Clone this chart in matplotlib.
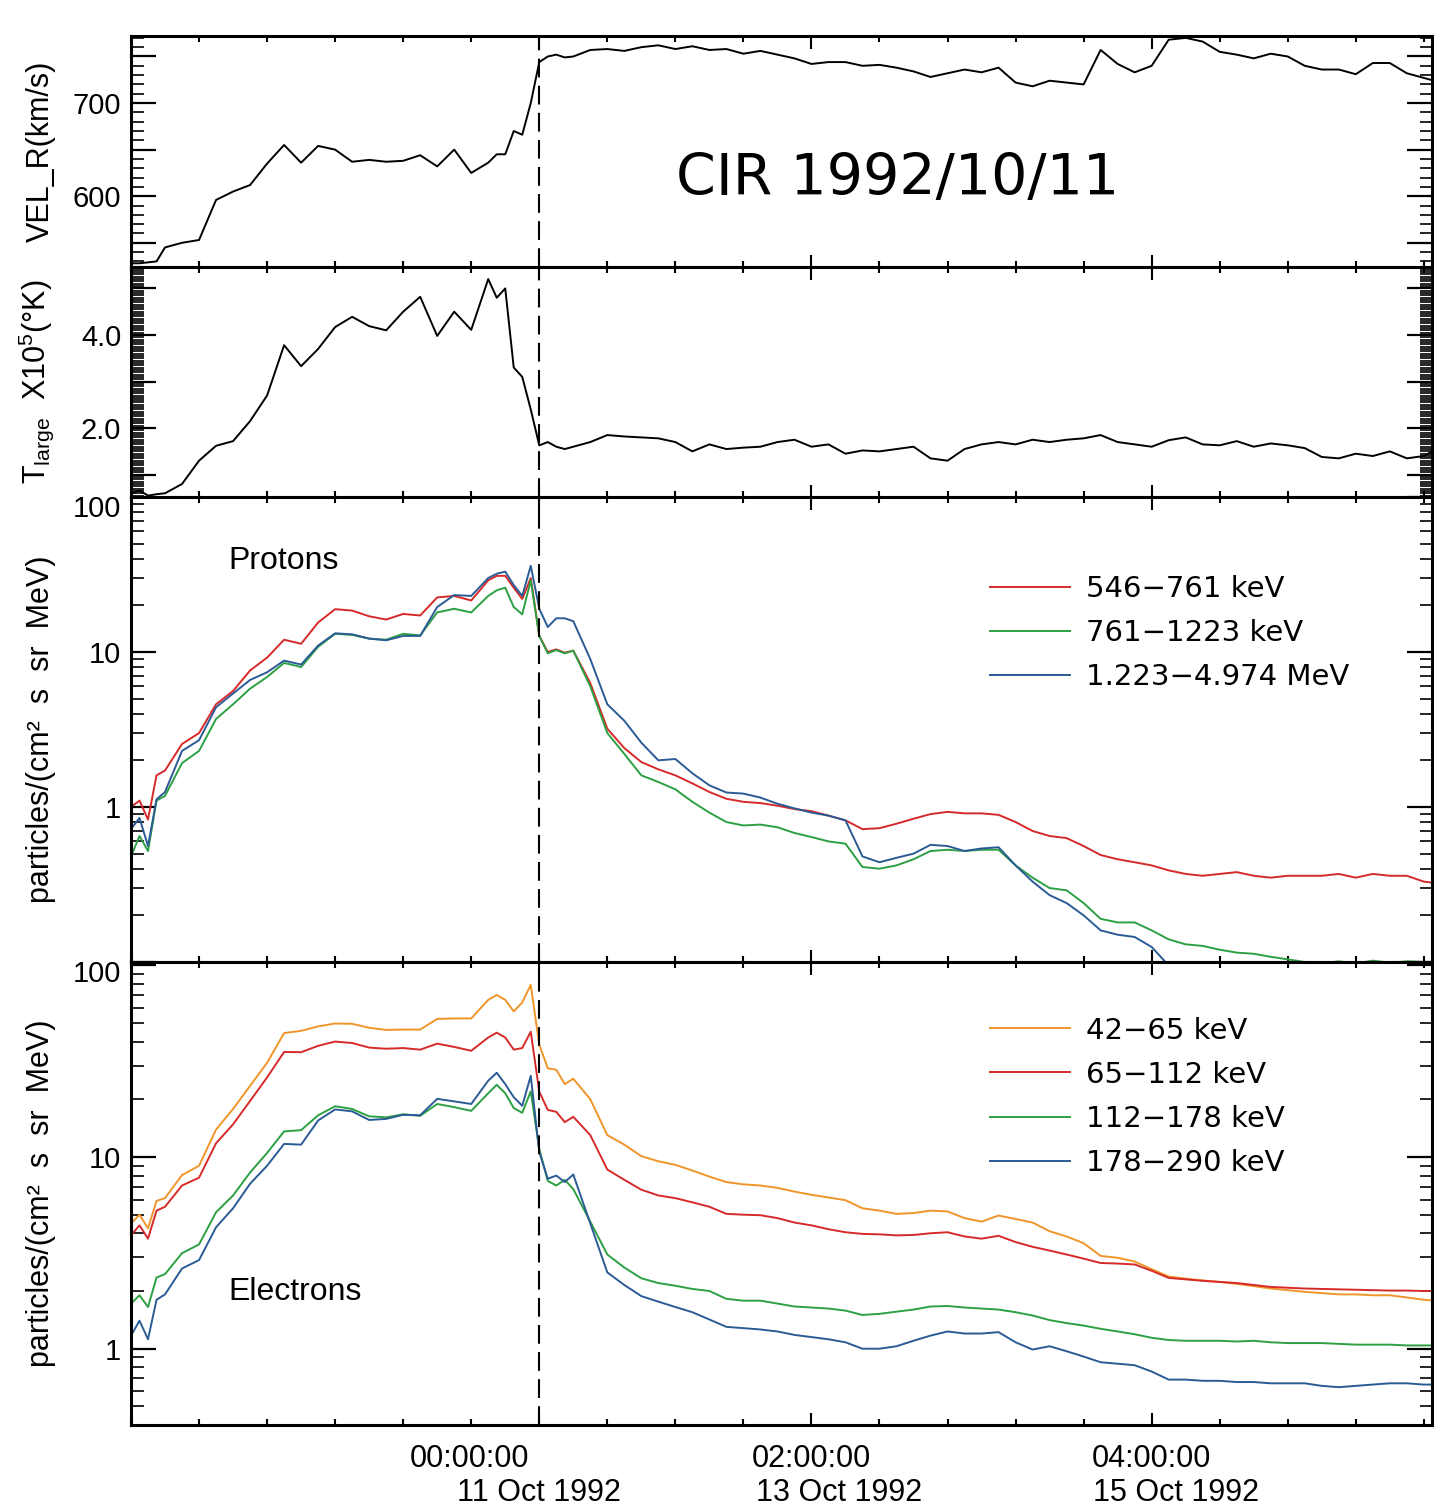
import numpy as np
import matplotlib
matplotlib.use('Agg')
import matplotlib.pyplot as plt
from matplotlib.ticker import MultipleLocator, FixedLocator, FuncFormatter, LogLocator

plt.rcParams['font.family'] = ['Liberation Sans', 'DejaVu Sans']
plt.rcParams['mathtext.fontset'] = 'custom'
plt.rcParams['mathtext.rm'] = 'Liberation Sans'
plt.rcParams['mathtext.it'] = 'Liberation Sans:italic'

# time in hours relative to 11 Oct 1992 00:00 (shock / dashed line)
hours = np.r_[-72:-66:1.5, -66:-9:3, -9:6:1.5, 6:160:3]

vel = [528, 528, 529, 530, 545, 550, 553, 596, 605, 612,
       635, 655, 636, 654, 650, 637, 639, 637, 638, 644,
       632, 650, 625, 636, 645, 645, 670, 666, 700, 744,
       750, 752, 749, 750, 757, 758, 756, 760, 762, 758,
       761, 757, 758, 753, 756, 752, 748, 742, 744, 744,
       740, 741, 738, 734, 728, 732, 736, 733, 738, 722,
       718, 724, 722, 720, 757, 742, 733, 740, 768, 770,
       766, 755, 752, 748, 753, 750, 740, 736, 736, 731,
       743, 743, 732, 727, 722]

temp = [0.60, 0.66, 0.55, 0.58, 0.60, 0.80, 1.30, 1.62, 1.72, 2.15,
        2.70, 3.78, 3.33, 3.70, 4.17, 4.39, 4.19, 4.10, 4.50, 4.82,
        3.98, 4.50, 4.11, 5.20, 4.80, 5.00, 3.30, 3.10, 2.40, 1.63,
        1.70, 1.60, 1.55, 1.60, 1.70, 1.85, 1.82, 1.80, 1.78, 1.70,
        1.50, 1.65, 1.55, 1.58, 1.60, 1.70, 1.75, 1.60, 1.65, 1.45,
        1.52, 1.50, 1.55, 1.60, 1.35, 1.30, 1.55, 1.65, 1.70, 1.65,
        1.75, 1.70, 1.75, 1.78, 1.85, 1.70, 1.65, 1.60, 1.74, 1.80,
        1.65, 1.63, 1.72, 1.60, 1.67, 1.63, 1.57, 1.38, 1.35, 1.45,
        1.40, 1.50, 1.35, 1.40, 1.60]

# protons
p_546 = [1.0, 1.1, 0.83, 1.6, 1.72, 2.55, 3.0, 4.6, 5.6, 7.6,
         9.2, 12.0, 11.3, 15.5, 18.9, 18.5, 17.0, 16.2, 17.6, 17.2,
         22.5, 23.0, 21.5, 29, 31, 31, 26, 22, 30, 12.7,
         10.0, 10.4, 9.9, 10.2, 6.3, 3.2, 2.4, 1.95, 1.75, 1.6,
         1.42, 1.25, 1.13, 1.08, 1.06, 1.02, 0.97, 0.94, 0.88, 0.82,
         0.72, 0.73, 0.78, 0.84, 0.9, 0.93, 0.91, 0.91, 0.89, 0.8,
         0.7, 0.65, 0.63, 0.56, 0.49, 0.46, 0.44, 0.42, 0.39, 0.37,
         0.36, 0.37, 0.38, 0.36, 0.35, 0.36, 0.36, 0.36, 0.37, 0.35,
         0.37, 0.36, 0.36, 0.33, 0.32]
p_761 = [0.48, 0.65, 0.52, 1.1, 1.18, 1.92, 2.3, 3.7, 4.6, 5.8,
         6.9, 8.5, 8.0, 10.8, 13.1, 12.9, 12.2, 12.0, 13.1, 12.8,
         18.0, 19.0, 18.0, 23, 25, 26, 19.5, 17.5, 29, 12.7,
         9.8, 10.3, 9.8, 10.2, 6.0, 3.0, 2.2, 1.6, 1.45, 1.3,
         1.08, 0.92, 0.8, 0.76, 0.77, 0.74, 0.68, 0.64, 0.6, 0.58,
         0.41, 0.4, 0.42, 0.46, 0.52, 0.53, 0.52, 0.53, 0.53, 0.42,
         0.35, 0.3, 0.29, 0.24, 0.19, 0.18, 0.18, 0.16, 0.14, 0.13,
         0.127, 0.12, 0.115, 0.113, 0.108, 0.104, 0.1, 0.098, 0.101, 0.098,
         0.102, 0.099, 0.101, 0.1, 0.1]
p_1223 = [0.72, 0.85, 0.56, 1.12, 1.25, 2.3, 2.7, 4.4, 5.4, 6.6,
          7.4, 8.8, 8.3, 11.0, 13.2, 13.0, 12.2, 11.9, 12.7, 12.7,
          19.5, 23.3, 23.0, 30, 32, 33, 27, 23, 36, 19.0,
          14.5, 16.5, 16.5, 15.8, 9.0, 4.6, 3.6, 2.6, 2.0, 2.04,
          1.65, 1.38, 1.24, 1.22, 1.15, 1.05, 0.98, 0.92, 0.88, 0.82,
          0.48, 0.44, 0.47, 0.5, 0.57, 0.56, 0.52, 0.54, 0.55, 0.42,
          0.33, 0.27, 0.24, 0.2, 0.16, 0.15, 0.145, 0.125, 0.095, 0.08,
          0.075, 0.08, 0.095, 0.08, 0.075, 0.08, 0.07, 0.075, 0.07, 0.08,
          0.075, 0.07, 0.075, 0.07, 0.07]

# electrons
e_42 = [4.5, 5.0, 4.25, 5.9, 6.1, 8.05, 9.0, 13.9, 17.8, 23.5,
        31, 44.3, 45.5, 48, 49.7, 49.5, 47.2, 46, 46.2, 46.2,
        52.5, 52.8, 52.8, 66, 70, 66, 57.5, 64, 79, 38.6,
        29, 28.5, 24, 25.6, 20, 13.0, 11.6, 10.1, 9.5, 9.1,
        8.5, 7.9, 7.4, 7.2, 7.1, 6.9, 6.6, 6.35, 6.15, 5.95,
        5.4, 5.25, 5.05, 5.1, 5.25, 5.2, 4.8, 4.6, 4.95, 4.75,
        4.55, 4.1, 3.85, 3.55, 3.05, 2.98, 2.85, 2.6, 2.38, 2.32,
        2.27, 2.23, 2.18, 2.12, 2.06, 2.02, 1.98, 1.95, 1.92, 1.92,
        1.9, 1.9, 1.85, 1.8, 1.77]
e_65 = [3.9, 4.4, 3.75, 5.25, 5.5, 7.1, 7.8, 11.8, 14.8, 19.6,
        26, 35.3, 35.2, 38, 40, 39.3, 37.2, 36.7, 37, 36.3,
        39, 37.5, 35.8, 42, 44.5, 42, 36.3, 37, 45, 21.9,
        17.6, 17.2, 15.2, 16.2, 13, 8.6, 7.6, 6.75, 6.3, 6.1,
        5.8, 5.5, 5.05, 5.0, 4.97, 4.8, 4.55, 4.4, 4.2, 4.05,
        3.97, 3.95, 3.9, 3.92, 4.0, 4.05, 3.85, 3.75, 3.88, 3.6,
        3.4, 3.25, 3.1, 2.95, 2.8, 2.78, 2.75, 2.55, 2.34, 2.3,
        2.26, 2.23, 2.2, 2.15, 2.1, 2.08, 2.06, 2.05, 2.04, 2.03,
        2.02, 2.01, 2.01, 2.0, 2.0]
e_112 = [1.72, 1.9, 1.65, 2.35, 2.45, 3.15, 3.5, 5.15, 6.3, 8.3,
         10.5, 13.6, 13.8, 16.5, 18.4, 17.8, 16.3, 16.1, 16.7, 16.4,
         18.9, 18.2, 17.4, 21.5, 23.8, 21.5, 18, 17, 22, 11,
         7.5, 7.1, 7.6, 6.8, 4.6, 3.1, 2.65, 2.33, 2.2, 2.13,
         2.05, 2.0, 1.82, 1.78, 1.78, 1.72, 1.66, 1.64, 1.62, 1.58,
         1.5, 1.52, 1.56, 1.6, 1.66, 1.67, 1.64, 1.62, 1.6, 1.55,
         1.49, 1.41, 1.36, 1.32, 1.27, 1.23, 1.19, 1.14, 1.11, 1.1,
         1.1, 1.1, 1.09, 1.1, 1.08, 1.07, 1.07, 1.07, 1.06, 1.05,
         1.05, 1.05, 1.04, 1.04, 1.04]
e_178 = [1.17, 1.4, 1.12, 1.8, 1.92, 2.62, 2.9, 4.3, 5.4, 7.25,
         9.0, 11.7, 11.6, 15.5, 17.7, 17.3, 15.6, 15.8, 16.6, 16.5,
         20.1, 19.5, 18.9, 25, 27.5, 24, 20.5, 18.5, 26.5, 10.6,
         7.7, 8.0, 7.4, 8.1, 4.5, 2.5, 2.15, 1.88, 1.76, 1.65,
         1.55, 1.42, 1.3, 1.28, 1.26, 1.23, 1.18, 1.15, 1.12, 1.08,
         1.0, 1.0, 1.03, 1.1, 1.17, 1.23, 1.2, 1.2, 1.22, 1.08,
         0.99, 1.03, 0.97, 0.91, 0.85, 0.835, 0.82, 0.76, 0.69, 0.69,
         0.68, 0.68, 0.67, 0.67, 0.66, 0.66, 0.66, 0.64, 0.63, 0.64,
         0.65, 0.66, 0.66, 0.65, 0.65]

proton_labels = ['546\u2212761 keV', '761\u22121223 keV', '1.223\u22124.974 MeV']
electron_labels = ['42\u221265 keV', '65\u2212112 keV', '112\u2212178 keV', '178\u2212290 keV']
date_ticks = [0, 2.0, 4.5]
date_top = ['00:00:00', '02:00:00', '04:00:00']
date_bottom = ['11 Oct 1992', '13 Oct 1992', '15 Oct 1992']

red = '#d62a2a'
green = '#2ca043'
blue = '#2b5b95'
orange = '#f0952a'

t = hours / 24.0

fig = plt.figure(figsize=(14.34, 15.08), dpi=100)
gs = fig.add_gridspec(4, 1, height_ratios=[231, 230, 465, 463],
                      left=131/1434, right=1432/1434,
                      top=1-36/1508, bottom=1-1425/1508, hspace=0)
ax1 = fig.add_subplot(gs[0])
ax2 = fig.add_subplot(gs[1], sharex=ax1)
ax3 = fig.add_subplot(gs[2], sharex=ax1)
ax4 = fig.add_subplot(gs[3], sharex=ax1)
axes = [ax1, ax2, ax3, ax4]

ax1.plot(t, vel, color='black', lw=1.4)
ax2.plot(t, temp, color='black', lw=1.4)

ax3.plot(t, p_546, color=red, lw=1.4, label=proton_labels[0])
ax3.plot(t, p_761, color=green, lw=1.4, label=proton_labels[1])
ax3.plot(t, p_1223, color=blue, lw=1.4, label=proton_labels[2])

ax4.plot(t, e_42, color=orange, lw=1.4, label=electron_labels[0])
ax4.plot(t, e_65, color=red, lw=1.4, label=electron_labels[1])
ax4.plot(t, e_112, color=green, lw=1.4, label=electron_labels[2])
ax4.plot(t, e_178, color=blue, lw=1.4, label=electron_labels[3])

ax3.set_yscale('log')
ax4.set_yscale('log')

ax1.set_ylim(524, 772)
ax2.set_ylim(0.52, 5.46)
ax3.set_ylim(0.1, 100)
ax4.set_ylim(0.4, 104)

ax1.yaxis.set_major_locator(MultipleLocator(50))
ax1.yaxis.set_minor_locator(MultipleLocator(10))
ax1.yaxis.set_major_formatter(FuncFormatter(lambda v, p: f'{v:.0f}' if round(v) % 100 == 0 else ''))

ax2.yaxis.set_major_locator(MultipleLocator(1.0))
ax2.yaxis.set_minor_locator(MultipleLocator(0.05))
ax2.yaxis.set_major_formatter(FuncFormatter(lambda v, p: f'{v:.1f}' if round(v) in (2, 4) else ''))

# the "100" at the top of the log panels hangs below the top edge, drawn separately
for ax in (ax3, ax4):
    ax.yaxis.set_major_locator(LogLocator(base=10))
    ax.yaxis.set_minor_locator(LogLocator(base=10, subs=np.arange(2, 10)))
    ax.yaxis.set_major_formatter(FuncFormatter(lambda v, p: f'{v:g}' if 1 <= v < 100 else ''))
    ax.annotate('100', xy=(0, 1), xycoords='axes fraction', xytext=(-10, 2),
                textcoords='offset pixels', ha='right', va='top', fontsize=21,
                annotation_clip=False)

for ax in axes:
    ax.set_xlim(-3.0, 6.56)
    ax.xaxis.set_major_locator(FixedLocator(date_ticks))
    ax.xaxis.set_minor_locator(MultipleLocator(0.5))
    ax.tick_params(axis='x', which='both', direction='in', top=True, bottom=True,
                   labelbottom=False, width=1.5)
    ax.tick_params(axis='x', which='major', length=9)
    ax.tick_params(axis='x', which='minor', length=4.5)
    ax.tick_params(axis='y', which='both', direction='in', left=True, right=True,
                   labelsize=21, pad=7)
    ax.tick_params(axis='y', which='major', length=18, width=1.6)
    ax.tick_params(axis='y', which='minor', length=9, width=1.2)
    for s in ax.spines.values():
        s.set_linewidth(2.2)
    ax.axvline(0, color='black', lw=1.5, dashes=(9, 4))

ax1.set_ylabel('VEL_R(km/s)', fontsize=22)
ax2.set_ylabel('T$_{\\mathrm{large}}$  X10$^{5}$(\u00b0K)', fontsize=22)
ax3.set_ylabel('particles/(cm\u00b2  s  sr  MeV)', fontsize=22)
ax4.set_ylabel('particles/(cm\u00b2  s  sr  MeV)', fontsize=22)
for ax in axes:
    ax.yaxis.set_label_coords(-0.058, 0.5)

ax1.text(0.589, 0.377, 'CIR 1992/10/11', transform=ax1.transAxes, fontsize=41,
         family='DejaVu Sans', ha='center', va='center')
ax3.text(0.0746, 0.862, 'Protons', transform=ax3.transAxes, fontsize=23, va='center')
ax4.text(0.0746, 0.287, 'Electrons', transform=ax4.transAxes, fontsize=23, va='center')

leg_kw = dict(loc='upper left', frameon=False, prop={'family': 'DejaVu Sans', 'size': 21},
              handlelength=2.74, handletextpad=0.58, labelspacing=0.55,
              borderpad=0, borderaxespad=0)
ax3.legend(bbox_to_anchor=(0.66, 0.832), **leg_kw)
ax4.legend(bbox_to_anchor=(0.66, 0.882), **leg_kw)

dx_top = [-70, 0, 0]
dx_bottom = [0, 28, 24]
for x, l1, l2, d1, d2 in zip(date_ticks, date_top, date_bottom, dx_top, dx_bottom):
    ax4.annotate(l1, xy=(x, 0), xycoords=('data', 'axes fraction'), xytext=(d1, -34),
                 textcoords='offset pixels', ha='center', va='center', fontsize=22,
                 annotation_clip=False)
    ax4.annotate(l2, xy=(x, 0), xycoords=('data', 'axes fraction'), xytext=(d2, -68),
                 textcoords='offset pixels', ha='center', va='center', fontsize=22,
                 annotation_clip=False)

fig.savefig('out.png', dpi=100)
